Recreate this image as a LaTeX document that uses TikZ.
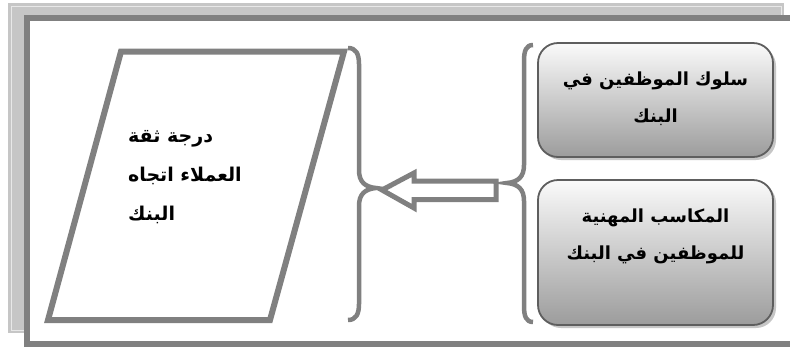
\documentclass[tikz,border=0pt]{standalone}
\usepackage{fontspec}
\newfontfamily\arabicfont[Script=Arabic]{DejaVu Sans}
\TeXXeTstate=1
\usetikzlibrary{shadows}
\definecolor{Frame}{HTML}{808080}
\definecolor{Shade}{HTML}{C6C6C6}
\definecolor{Edge}{HTML}{5E5E5E}
\definecolor{BoxTop}{HTML}{FAFAFA}
\definecolor{BoxBottom}{HTML}{9C9C9C}

\tikzset{
  outline/.style={draw=Frame,line width=6pt,line join=miter},
  curly/.style={draw=Frame,line width=4.5pt},
  causebox/.style={rounded corners=20pt,draw=Edge,line width=1.8pt,top color=BoxTop,bottom color=BoxBottom,
    minimum width=235pt,drop shadow={shadow xshift=3pt,shadow yshift=-3pt,fill=Shade,opacity=1}},
  arabic/.style={text=black,font=\arabicfont\bfseries\fontsize{18}{37}\selectfont}
}

\begin{document}
\begin{tikzpicture}[x=1pt,y=-1pt]
    \useasboundingbox (0,0) rectangle (790,349);
    % frame
    \fill[Shade] (8,3) rectangle (784,333);
    \draw[white!60!Shade,line width=0.8pt] (11,6) rectangle (781,330);
    \filldraw[fill=white,draw=Frame,line width=6pt] (27,18) rectangle (805,344);

    % outcome
    \draw[outline] (121,51.5) -- (344,51.5) -- (270,320) -- (48,320) -- cycle;
    \node[arabic,align=left,anchor=west,inner sep=0pt,font=\arabicfont\bfseries\fontsize{19}{39}\selectfont] (trust) at (128,177)
      {\beginR درجة ثقة\endR\\\beginR العملاء اتجاه\endR\\\beginR البنك\endR};

    % causes
    \node[causebox,minimum height=114pt] (conduct) at (655.5,100) {};
    \node[arabic,align=center] (conducttext) at ([yshift=1pt]conduct.center)
      {\beginR سلوك الموظفين في\endR\\\beginR البنك\endR};
    \node[causebox,minimum height=145pt] (gains) at (655.5,252.5) {};
    \node[arabic,align=center] (gainstext) at ([yshift=16pt]gains.center)
      {\beginR المكاسب المهنية\endR\\\beginR للموظفين في البنك\endR};

    % braces
    \draw[curly] (348,48) .. controls (356,48) and (359,54) .. (359,64) -- (359,170)
      .. controls (359,182) and (365,187) .. (376,188) .. controls (365,189) and (359,194) .. (359,206)
      -- (359,304) .. controls (359,314) and (356,320) .. (348,320);
    \draw[curly] (533,45) .. controls (526,45) and (524,51) .. (524,61) -- (524,165)
      .. controls (524,177) and (518,182) .. (507,183) .. controls (518,184) and (524,189) .. (524,201)
      -- (524,306) .. controls (524,316) and (526,322) .. (533,322);

    % arrow
    \draw[outline,line width=5pt] (382,190) -- (414,173) -- (414,181) -- (496,181) -- (496,199.5)
      -- (414,199.5) -- (414,208) -- cycle;
\end{tikzpicture}
\end{document}
